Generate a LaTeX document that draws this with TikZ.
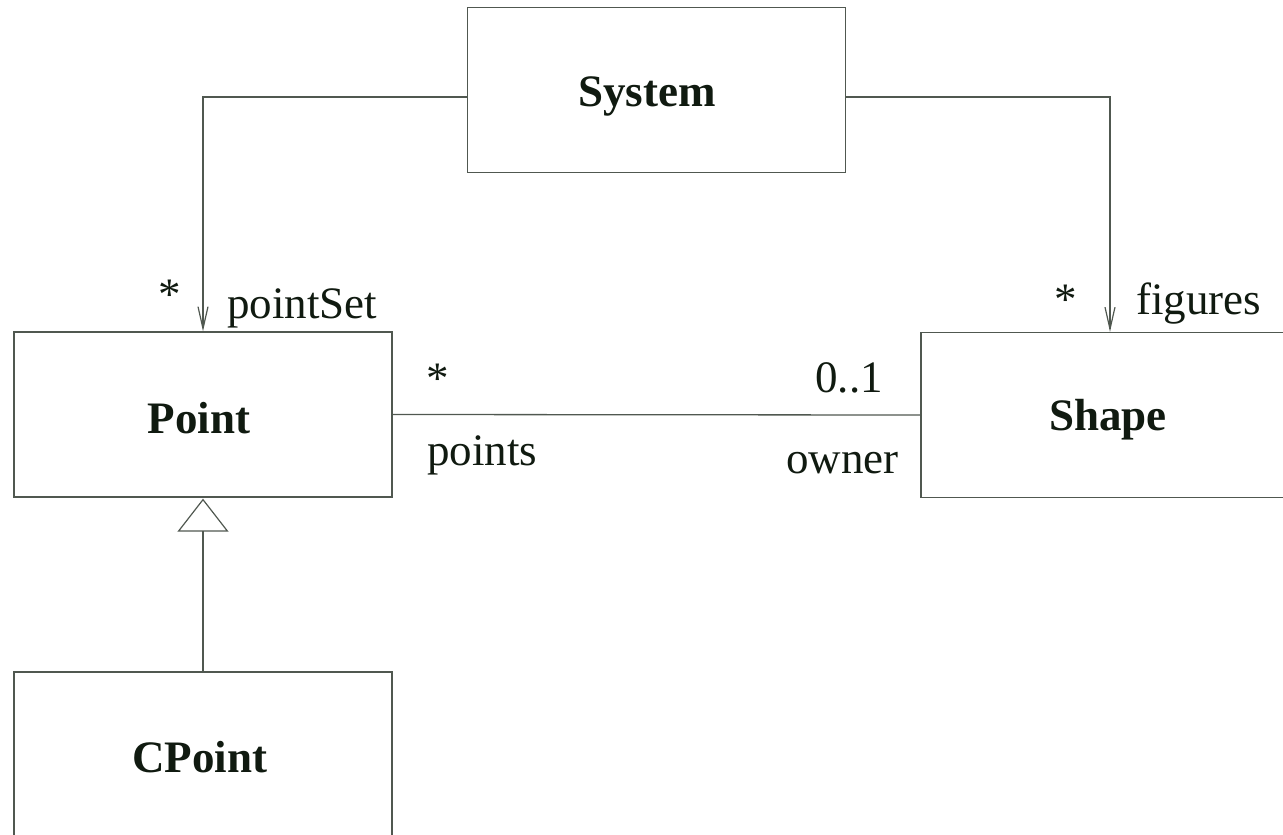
\documentclass[tikz,border=0pt]{standalone}
\usepackage{fontspec}
\setmainfont{Liberation Serif}
\usetikzlibrary{arrows.meta}
\definecolor{linec}{RGB}{80,88,80}
\definecolor{textc}{RGB}{16,26,16}
\tikzset{
  classbox/.style={draw=linec, line width=1.3bp, minimum width=378bp, minimum height=165bp, inner sep=0pt},
  cname/.style={anchor=base, inner sep=0pt, text=textc, font=\fontsize{45bp}{54bp}\selectfont\bfseries},
  rolelab/.style={inner sep=0pt, text=textc, font=\fontsize{45bp}{54bp}\selectfont},
  conn/.style={draw=linec, line width=1.3bp},
  navig/.style={conn, -{Straight Barb[length=22bp,width=10bp,line width=1.2bp]}},
  inherit/.style={conn, -{Triangle[open,length=33bp,width=51bp,line width=1.2bp]}}
}
\begin{document}
\begin{tikzpicture}[x=1bp,y=-1bp]
\useasboundingbox (0,0) rectangle (1283,835);
\begin{scope}
\clip (0,0) rectangle (1283,835);
% class boxes
\node[classbox] (system) at (656.5,90) {};
\node[classbox] (point) at (203,414.5) {};
\node[classbox] (shape) at (1110,415) {};
\node[classbox] (cpoint) at (203,754.5) {};
% class names
\node[cname] (systemname) at (647,106) {System};
\node[cname] (pointname) at (199,433) {Point};
\node[cname] (shapename) at (1108,430) {Shape};
\node[cname] (cpointname) at (200,772) {CPoint};
% connector bends
\coordinate (sysL) at ([yshift=-7bp]system.west);
\coordinate (sysR) at ([yshift=-7bp]system.east);
% connectors
\draw[navig] (sysL) -| (point.north);
\draw[navig] (sysR) -| (shape.north);
\draw[conn] (point.east) -- (shape.west);
\draw[inherit] (cpoint.north) -- ([yshift=-1bp]point.south);
% role labels
\node[rolelab, anchor=base] (star1) at (170,309) {*};
\node[rolelab, anchor=base west] (pointset) at (227,318) {pointSet};
\node[rolelab, anchor=base] (star2) at (1066,314) {*};
\node[rolelab, anchor=base west] (figures) at (1136,314) {figures};
\node[rolelab, anchor=base] (star3) at (438,393) {*};
\node[rolelab, anchor=base west] (points) at (427,465) {points};
\node[rolelab, anchor=base east] (mult) at (883,392) {0..1};
\node[rolelab, anchor=base east] (owner) at (899,473) {owner};
\end{scope}
\end{tikzpicture}
\end{document}
